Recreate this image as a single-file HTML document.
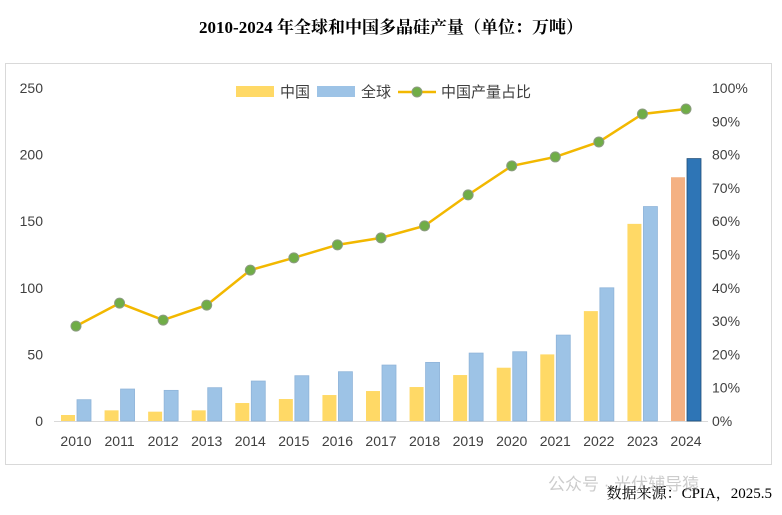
<!DOCTYPE html>
<html><head><meta charset="utf-8"><style>
body{margin:0;background:#fff;width:782px;height:510px;overflow:hidden;font-family:"Liberation Sans","Noto Sans CJK SC",sans-serif}
</style></head><body>
<svg width="782" height="510" xmlns="http://www.w3.org/2000/svg">
<text x="391" y="33" text-anchor="middle" font-family="Liberation Serif, Noto Serif CJK SC, serif" font-size="17" font-weight="bold" fill="#000">2010-2024 年全球和中国多晶硅产量（单位：万吨）</text>
<rect x="5.5" y="63.5" width="766" height="401" fill="none" stroke="#d9d9d9"/>
<g id="plot"></g>
<g>
<rect x="236" y="86" width="38" height="11" fill="#ffd966"/>
<text x="280" y="97" font-size="15" fill="#404040">中国</text>
<rect x="317" y="86" width="38" height="11" fill="#9dc3e6"/>
<text x="361" y="97" font-size="15" fill="#404040">全球</text>
<line x1="398" y1="92" x2="436" y2="92" stroke="#f2b800" stroke-width="2.5"/>
<circle cx="417" cy="92" r="5" fill="#70ad47" stroke="#8c9c80"/>
<text x="441" y="97" font-size="15" fill="#404040">中国产量占比</text>
</g>
<text x="548" y="490" font-size="17" fill="#ccc">公众号 · 光伏辅导猿</text>
<text x="772" y="498" text-anchor="end" font-family="Liberation Serif, Noto Serif CJK SC, serif" font-size="15" fill="#000">数据来源：CPIA，2025.5</text>
</svg>
<script>
const years=["2010","2011","2012","2013","2014","2015","2016","2017","2018","2019","2020","2021","2022","2023","2024"];
const china=[4.5,8,7,8,13.5,16.5,19.5,22.5,25.5,34.5,40,50,82.5,148,183];
const global=[16,24,23,25,30,34,37,42,44,51,52,64.5,100,161,197];
const share=[28.5,35.4,30.3,34.8,45.3,49,52.9,55,58.6,67.9,76.6,79.3,83.8,92.2,93.7];
const leftTicks=[0,50,100,150,200,250];
const rightTicks=[0,10,20,30,40,50,60,70,80,90,100];
const NS="http://www.w3.org/2000/svg";
const g=document.getElementById('plot');
const y0=421,y1=88;
const yL=v=>y0-(v/250)*(y0-y1);
const yR=v=>y0-(v/100)*(y0-y1);
const xC=i=>76+i*(610/14);
function mk(t,a){const e=document.createElementNS(NS,t);for(const k in a)e.setAttribute(k,a[k]);g.appendChild(e);return e;}
let e=mk('line',{x1:54,y1:y0+0.5,x2:708,y2:y0+0.5,stroke:'#d9d9d9'});


leftTicks.forEach(v=>{const t=mk('text',{x:43,y:yL(v)+5,'text-anchor':'end','font-size':14,fill:'#404040'});t.textContent=v;

});
rightTicks.forEach(v=>{const t=mk('text',{x:712,y:yR(v)+5,'font-size':14,fill:'#404040'});t.textContent=v+'%';

});
years.forEach((yr,i)=>{const c=xC(i);const last=i===years.length-1;
let b=mk('rect',{x:c-15,y:yL(china[i]),width:14,height:y0-yL(china[i]),fill:last?'#f4b183':'#ffd966'});


let b2=mk('rect',{x:c+1,y:yL(global[i]),width:14,height:y0-yL(global[i]),fill:last?'#2e75b6':'#9dc3e6',stroke:last?'#1f4e79':'#8fb4d9','stroke-width':0.8});


let t=mk('text',{x:c,y:446,'text-anchor':'middle','font-size':14,fill:'#404040'});t.textContent=yr;

});
let l=mk('polyline',{points:share.map((v,i)=>xC(i)+','+yR(v)).join(' '),fill:'none',stroke:'#f2b800','stroke-width':2.5});


share.forEach((v,i)=>{let c=mk('circle',{cx:xC(i),cy:yR(v),r:5,fill:'#70ad47',stroke:'#8c9c80'});

});
</script>
</body></html>
